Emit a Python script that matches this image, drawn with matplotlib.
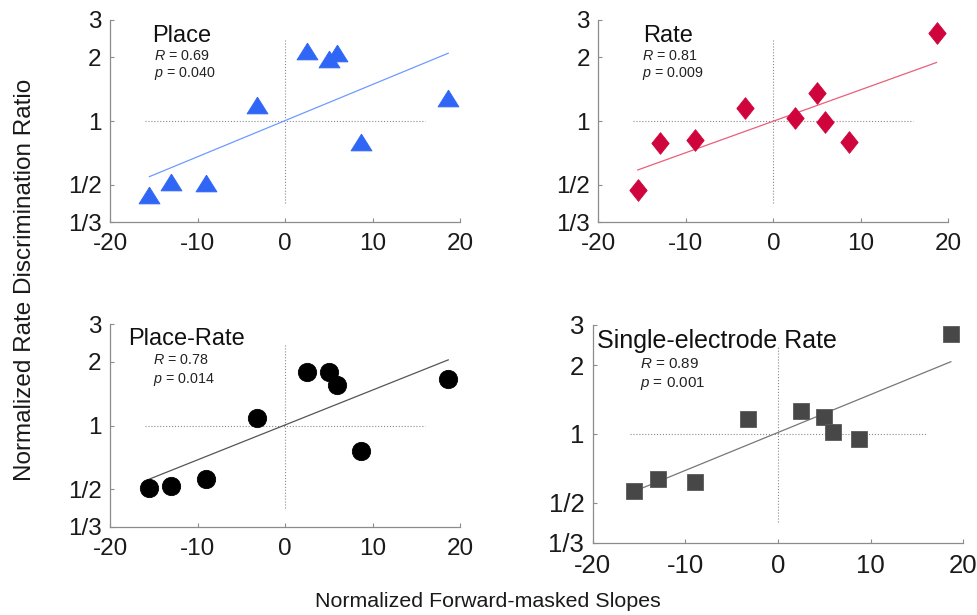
import matplotlib
matplotlib.use("Agg")
import matplotlib.pyplot as plt
import numpy as np

plt.rcParams['font.family'] = ['Liberation Sans', 'DejaVu Sans']
plt.rcParams['mathtext.fontset'] = 'custom'
plt.rcParams['mathtext.rm'] = 'Liberation Sans'
plt.rcParams['mathtext.it'] = 'Liberation Sans:italic'

# ---- data ----
slopes = [-15.5, -13.0, -9.0, -3.25, 2.5, 5.0, 5.9, 8.7, 18.65]

place_ratio = [0.447, 0.515, 0.51, 1.19, 2.13, 1.96, 2.09, 0.80, 1.29]
rate_ratio = [0.472, 0.784, 0.813, 1.156, 1.03, 1.36, 0.986, 0.80, 2.61]
place_rate_ratio = [0.506, 0.52, 0.557, 1.08, 1.78, 1.78, 1.55, 0.758, 1.66]
single_ratio = [0.561, 0.632, 0.613, 1.16, 1.26, 1.18, 1.02, 0.946, 2.73]

# fit line end values (at min and max slope)
place_fit = [0.546, 2.09]
rate_fit = [0.587, 1.89]
place_rate_fit = [0.559, 2.04]
single_fit = [0.56, 2.07]

titles = ["Place", "Rate", "Place-Rate", "Single-electrode Rate"]
r_values = ["0.69", "0.81", "0.78", "0.89"]
p_values = ["0.040", "0.009", "0.014", "0.001"]

x_ticks = [-20, -10, 0, 10, 20]
y_ticks = [1/3, 1/2, 1, 2, 3]
y_tick_labels = ["1/3", "1/2", "1", "2", "3"]

# ---- figure ----
fig = plt.figure(figsize=(9.78, 6.15), dpi=100)

tri = [(0, 0.8), (-1, -0.8), (1, -0.8), (0, 0.8)]
dia = [(0, 1), (0.8, 0), (0, -1), (-0.8, 0), (0, 1)]

panels = [
    dict(rect=[0.1125, 0.639, 0.3579, 0.3285], y=place_ratio, fit=place_fit,
         marker=tri, ms=15.1, mfc='#2F66F5', mec='#2F66F5', lc='#6E9BFF',
         scale=1.0, title_xy=(0.12, 0.891), txt_xy=(0.127, 0.80, 0.716)),
    dict(rect=[0.6118, 0.639, 0.3579, 0.3285], y=rate_ratio, fit=rate_fit,
         marker=dia, ms=15.6, mfc='#D0043C', mec='#D0043C', lc='#EA5F7A',
         scale=1.0, title_xy=(0.129, 0.893), txt_xy=(0.124, 0.80, 0.716)),
    dict(rect=[0.1125, 0.1436, 0.3579, 0.329], y=place_rate_ratio, fit=place_rate_fit,
         marker='o', ms=13.2, mfc='#000000', mec='#000000', lc='#555555',
         scale=1.0, title_xy=(0.052, 0.898), txt_xy=(0.124, 0.802, 0.708)),
    dict(rect=[0.606, 0.1176, 0.379, 0.354], y=single_ratio, fit=single_fit,
         marker='s', ms=11.5, mfc='#474747', mec='#5a5a5a', lc='#777777',
         scale=1.06, title_xy=(0.011, 0.896), txt_xy=(0.128, 0.801, 0.714)),
]

for i, pn in enumerate(panels):
    ax = fig.add_axes(pn['rect'])
    s = pn['scale']
    ax.set_yscale('log')
    ax.set_xlim(-20, 20)
    ax.set_ylim(1/3, 3)

    # reference lines
    ax.plot([-16, 16], [1, 1], ls=':', color='#8a8a8a', lw=0.8, zorder=1)
    ax.plot([0, 0], [0.41, 2.42], ls=':', color='#8a8a8a', lw=0.8, zorder=1)

    # fit line
    ax.plot([min(slopes), max(slopes)], pn['fit'], color=pn['lc'], lw=0.9, zorder=2)

    # data
    ax.plot(slopes, pn['y'], ls='none', marker=pn['marker'], ms=pn['ms'],
            mfc=pn['mfc'], mec=pn['mec'], mew=0.6, zorder=3)

    ax.set_xticks(x_ticks)
    ax.set_xticklabels([str(t) for t in x_ticks])
    ax.set_yticks(y_ticks)
    ax.set_yticklabels(y_tick_labels)
    ax.minorticks_off()
    ax.yaxis.set_minor_locator(matplotlib.ticker.NullLocator())

    for side in ['top', 'right']:
        ax.spines[side].set_visible(False)
    for side in ['left', 'bottom']:
        ax.spines[side].set_color('#8c8c8c')
        ax.spines[side].set_linewidth(0.9)
    ax.tick_params(direction='in', length=3, width=0.8, color='#8c8c8c',
                   labelsize=17.5 * s, labelcolor='#1a1a1a', pad=6)
    ax.tick_params(axis='x', pad=8)
    ax.patch.set_alpha(0)

    tx, ty = pn['title_xy']
    ax.text(tx, ty, titles[i], transform=ax.transAxes, fontsize=17 * s,
            color='#111111', ha='left', va='baseline')
    rx, ry, py = pn['txt_xy']
    ax.text(rx, ry, r"$\it{R}$ = " + r_values[i], transform=ax.transAxes,
            fontsize=10.3 * s, color='#222222', ha='left', va='baseline')
    ax.text(rx, py, r"$\it{p}$ = " + p_values[i], transform=ax.transAxes,
            fontsize=10.3 * s, color='#222222', ha='left', va='baseline')

fig.text(0.0256, 0.545, "Normalized Rate Discrimination Ratio", rotation=90,
         ha='center', va='center', fontsize=17.5, color='#1a1a1a')
fig.text(0.499, 0.013, "Normalized Forward-masked Slopes",
         ha='center', va='baseline', fontsize=15.4, color='#1a1a1a')

fig.savefig("out.png", dpi=100)
